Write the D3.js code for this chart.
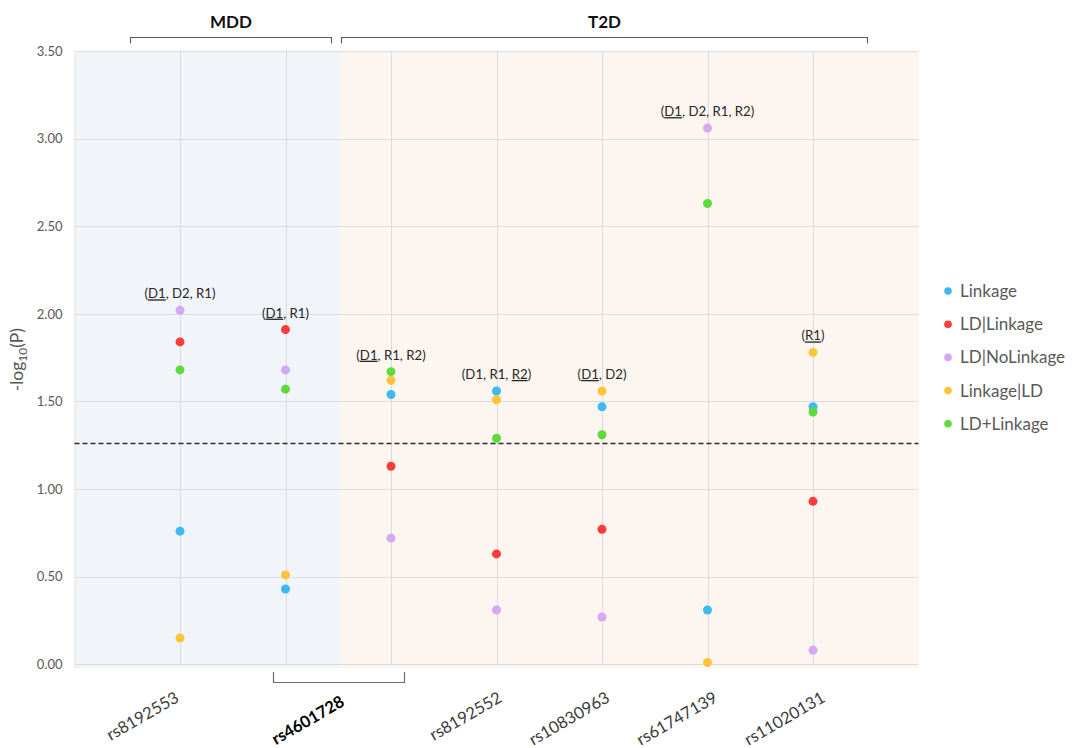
<!DOCTYPE html>
<html>
<head>
<meta charset="utf-8">
<script src="https://cdn.jsdelivr.net/npm/d3@7"></script>
<style>
  body { margin: 0; background: #ffffff; }
  svg { display: block; font-family: Lato, "Open Sans", "Noto Sans", sans-serif; }
</style>
</head>
<body>
<svg id="chart" width="1073" height="748"></svg>
<script>
// One column per SNP / trait pair; rs4601728 is tested in both traits.
const categories = [
  "rs8192553 MDD", "rs4601728 MDD", "rs4601728 T2D", "rs8192552 T2D",
  "rs10830963 T2D", "rs61747139 T2D", "rs11020131 T2D"
];
// Axis labels and the columns each one sits under.
const tickLabels = ["rs8192553", "rs4601728", "rs8192552", "rs10830963", "rs61747139", "rs11020131"];
const tickLabelColumns = [[0], [1, 2], [3], [4], [5], [6]];
const boldLabels = ["rs4601728"];

// -log10(P) per model
const seriesNames = ["Linkage", "LD|Linkage", "LD|NoLinkage", "Linkage|LD", "LD+Linkage"];
const linkage       = [0.76, 0.43, 1.54, 1.56, 1.47, 0.31, 1.47];
const ldLinkage     = [1.84, 1.91, 1.13, 0.63, 0.77, null, 0.93];
const ldNoLinkage   = [2.02, 1.68, 0.72, 0.31, 0.27, 3.06, 0.08];
const linkageLd     = [0.15, 0.51, 1.62, 1.51, 1.56, 0.01, 1.78];
const ldPlusLinkage = [1.68, 1.57, 1.67, 1.29, 1.31, 2.63, 1.44];
const seriesValues = [linkage, ldLinkage, ldNoLinkage, linkageLd, ldPlusLinkage];
const seriesColors = ["#3dbbf0", "#ff3b3b", "#d4a8f3", "#ffc43a", "#5edb3c"];

// Trait groups (first and last column of each)
const groups = ["MDD", "T2D"];
const groupColumns = [[0, 1], [2, 6]];
const groupFills = ["#f1f4f9", "#fdf6f0"];

const threshold = 1.26;
const yTicks = [0, 0.5, 1, 1.5, 2, 2.5, 3, 3.5];

// Significant models per column; one term is underlined in each
const annotationTerms = [
  ["D1", "D2", "R1"], ["D1", "R1"], ["D1", "R1", "R2"], ["D1", "R1", "R2"],
  ["D1", "D2"], ["D1", "D2", "R1", "R2"], ["R1"]
];
const annotationUnderlined = ["D1", "D1", "D1", "R2", "D1", "D1", "R1"];

// ---------------------------------------------------------------------------
const svg = d3.select("#chart");
const plot = { left: 74.5, right: 918.5, top: 51, bottom: 664.3 };

const x = d3.scalePoint().domain(categories).range([plot.left, plot.right]).padding(1);
const y = d3.scaleLinear().domain([0, 3.5]).range([plot.bottom, plot.top]);
const step = x.step();

svg.append("rect").attr("width", 1073).attr("height", 748).attr("fill", "#ffffff");

// Group backgrounds, split halfway between the groups' neighbouring columns
const bounds = groupColumns.map(([a, b], i) => {
  const left = i === 0 ? plot.left : (x(categories[groupColumns[i - 1][1]]) + x(categories[a])) / 2 + 1.5;
  const right = i === groupColumns.length - 1 ? plot.right : (x(categories[b]) + x(categories[groupColumns[i + 1][0]])) / 2 + 1.5;
  return [left, right];
});
svg.append("g").selectAll("rect").data(bounds).join("rect")
  .attr("x", d => d[0]).attr("y", plot.top)
  .attr("width", d => d[1] - d[0]).attr("height", plot.bottom - plot.top + 4)
  .attr("fill", (d, i) => groupFills[i]);

// Gridlines
const grid = svg.append("g").attr("stroke", "#dcdcdc").attr("stroke-width", 1);
grid.selectAll("line.h").data(yTicks).join("line").attr("class", "h")
  .attr("x1", plot.left).attr("x2", plot.right)
  .attr("y1", d => Math.round(y(d)) + 0.5).attr("y2", d => Math.round(y(d)) + 0.5);
grid.selectAll("line.v").data(categories).join("line").attr("class", "v")
  .attr("x1", d => Math.round(x(d)) + 0.5).attr("x2", d => Math.round(x(d)) + 0.5)
  .attr("y1", plot.top).attr("y2", plot.bottom);
grid.append("line").attr("x1", plot.left + 0.5).attr("x2", plot.left + 0.5)
  .attr("y1", plot.top).attr("y2", plot.bottom + 4).attr("stroke", "#e2e5ea");

// Y axis
const yAxis = d3.axisLeft(y).tickValues(yTicks).tickFormat(d3.format(".2f")).tickSize(0).tickPadding(12);
const yg = svg.append("g").attr("transform", `translate(${plot.left},0)`).call(yAxis);
yg.select(".domain").remove();
yg.selectAll("text").attr("fill", "#595959").attr("font-size", 13).attr("font-family", "Lato, sans-serif");

const yTitle = svg.append("text")
  .attr("transform", `translate(23,${(y(1.5) + y(2.0)) / 2 + 2}) rotate(-90)`)
  .attr("text-anchor", "middle").attr("fill", "#595959").attr("font-size", 17.5);
yTitle.append("tspan").text("-log");
yTitle.append("tspan").attr("font-size", 12).attr("dy", 4).text("10");
yTitle.append("tspan").attr("dy", -4).text("(P)");

// Threshold line
svg.append("line")
  .attr("x1", plot.left).attr("x2", plot.right)
  .attr("y1", y(threshold)).attr("y2", y(threshold))
  .attr("stroke", "#2b2b2b").attr("stroke-width", 1.4).attr("stroke-dasharray", "5,3");

// Points
const pts = [];
seriesValues.forEach((vals, s) => vals.forEach((v, i) => {
  if (v != null) pts.push({ s, cat: categories[i], v });
}));
svg.append("g").selectAll("circle").data(pts).join("circle")
  .attr("cx", d => x(d.cat)).attr("cy", d => y(d.v)).attr("r", 4.5)
  .attr("fill", d => seriesColors[d.s]);

// Annotations above each column's highest point
const colMax = categories.map((c, i) => d3.max(seriesValues, vals => vals[i]));
const ann = svg.append("g").attr("font-size", 13.2).attr("fill", "#262626").attr("text-anchor", "middle");
annotationTerms.forEach((terms, i) => {
  const t = ann.append("text").attr("x", x(categories[i])).attr("y", y(colMax[i]) - 12);
  t.append("tspan").text("(");
  terms.forEach((term, k) => {
    const sp = t.append("tspan").text(term);
    if (term === annotationUnderlined[i]) sp.attr("text-decoration", "underline");
    if (k < terms.length - 1) t.append("tspan").text(", ");
  });
  t.append("tspan").text(")");
});

// Category labels, rotated
tickLabels.forEach((lab, i) => {
  const cols = tickLabelColumns[i];
  const cx = d3.mean(cols, c => x(categories[c]));
  const idx = d3.mean(cols);
  const bold = boldLabels.includes(lab);
  svg.append("text")
    .attr("transform", `translate(${cx + 2.2 * idx + (bold ? 4 : 0)},${bold ? 705 : 701}) rotate(-30)`)
    .attr("text-anchor", "end")
    .attr("font-size", 16.5)
    .attr("font-weight", bold ? 700 : 400)
    .attr("fill", bold ? "#000000" : "#3a3a3a")
    .text(lab);
});

// Bracket joining the two rs4601728 columns under the axis
const shared = tickLabelColumns[1].map(c => x(categories[c]));
const midShared = (shared[0] + shared[1]) / 2;
const bx0 = Math.round(midShared - step * 0.623) + 0.5, bx1 = Math.round(midShared + step * 0.623) + 0.5;
svg.append("path")
  .attr("d", `M${bx0},672 V682.5 H${bx1} V672`)
  .attr("fill", "none").attr("stroke", "#6b6b6b").attr("stroke-width", 1.2);

// Trait brackets along the top
const groupG = svg.append("g");
groupColumns.forEach(([a, b], i) => {
  const x0 = Math.round(x(categories[a]) - step * 0.47) + 0.5;
  const x1 = Math.round(x(categories[b]) + step * (i === 0 ? 0.43 : 0.51)) + 0.5;
  groupG.append("path")
    .attr("d", `M${x0},43.5 V37.5 H${x1} V43.5`)
    .attr("fill", "none").attr("stroke", "#595959").attr("stroke-width", 1.1);
  groupG.append("text")
    .attr("x", (x0 + x1) / 2).attr("y", 28)
    .attr("text-anchor", "middle").attr("font-size", 17).attr("font-weight", 700)
    .attr("fill", "#111111").text(groups[i]);
});

// Legend
const legend = svg.append("g").attr("transform", "translate(948,291)");
seriesNames.forEach((name, i) => {
  const row = legend.append("g").attr("transform", `translate(0,${i * 33.2})`);
  row.append("circle").attr("r", 3.8).attr("fill", seriesColors[i]);
  row.append("text").attr("x", 12).attr("dy", "0.35em")
    .attr("font-size", 17).attr("fill", "#595959").text(name);
});
</script>
</body>
</html>
